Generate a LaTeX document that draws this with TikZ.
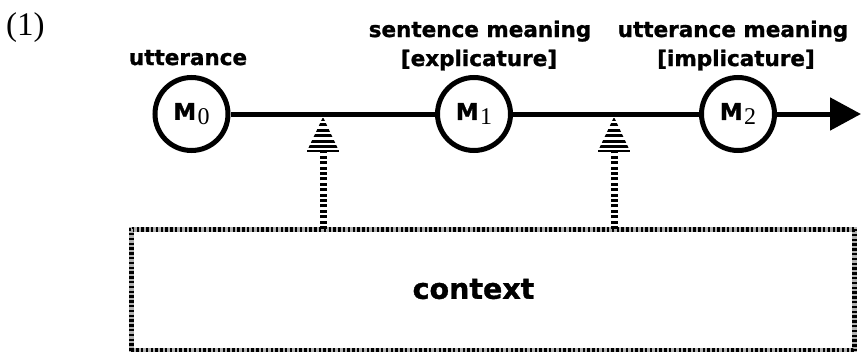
\documentclass[tikz,border=0pt]{standalone}
\usepackage{fontspec}
\setmainfont{Liberation Serif}
\newfontfamily\labfont{DejaVu Sans}[BoldFeatures={FakeBold=1.2}]
\usetikzlibrary{arrows.meta}
\newcommand\mlab[1]{{\labfont\bfseries\fontsize{23}{26}\selectfont M}\hspace{1.5pt}\raisebox{-5pt}{\fontsize{24}{26}\selectfont #1}}
\tikzset{
  mcirc/.style={circle,draw,line width=5pt,minimum size=73pt,inner sep=0pt},
  toplab/.style={anchor=base,inner sep=0pt,font=\labfont\bfseries\fontsize{21.5}{26}\selectfont},
  mainline/.style={line width=5pt},
  shaft/.style={line width=7pt,dash pattern=on 3pt off 2.4pt},
  chkA/.style={line width=2.4pt,dash pattern=on 2.4pt off 2.4pt},
  chkB/.style={line width=2.4pt,dash pattern=on 2.4pt off 2.4pt,dash phase=2.4pt},
  chkG/.style={line width=4.8pt,gray!60},
}
\begin{document}
\begin{tikzpicture}[x=1pt,y=-1pt]
\useasboundingbox (0,0) rectangle (861,351);
% example number
\node[anchor=base west,inner sep=0pt,font=\fontsize{33}{36}\selectfont] (num) at (6,35) {(1)};
% circles
\node[mcirc] (m0) at (191.5,114) {\mlab{0}};
\node[mcirc] (m1) at (474,114) {\mlab{1}};
\node[mcirc] (m2) at (738,114) {\mlab{2}};
\coordinate (end) at (861,114);
% labels
\node[toplab] (l0) at (188,65) {utterance};
\node[toplab] (l1a) at (480,37) {sentence meaning};
\node[toplab] (l1b) at (479,66) {[explicature]};
\node[toplab] (l2a) at (733,37) {utterance meaning};
\node[toplab] (l2b) at (736,66) {[implicature]};
% main line
\draw[mainline] (m0) -- (m1);
\draw[mainline] (m1) -- (m2);
\draw[mainline,-{Triangle[length=31pt,width=32pt]}] (m2) -- (end);
% context box
\coordinate (bnw) at (129,227);
\coordinate (bse) at (857,353);
\draw[chkG] ([shift={(2.4pt,-2.4pt)}]bnw) rectangle ([shift={(-2.4pt,2.4pt)}]bse);
\draw[chkA] ([shift={(1.2pt,-1.2pt)}]bnw) rectangle ([shift={(-1.2pt,1.2pt)}]bse);
\draw[chkB] ([shift={(3.6pt,-3.6pt)}]bnw) rectangle ([shift={(-3.6pt,3.6pt)}]bse);
\node[inner sep=0pt,font=\labfont\bfseries\fontsize{28.5}{32}\selectfont] (ctx) at (473.5,289) {context};
% upward striped arrows
\foreach \n/\x in {a/323,b/614}{
  \coordinate (\n top) at (\x,117);
  \coordinate (\n base) at (\x,151);
  \coordinate (\n foot) at (\x,229);
  \draw[shaft] (\n foot) -- (\n base);
  \begin{scope}
    \clip (\n top) -- ([xshift=-16pt]\n base) -- ([xshift=16pt]\n base) -- cycle;
    \foreach \y in {117.5,123,128.5,134,139.5,145}{
      \fill (\x-17,\y) rectangle (\x+17,\y+3.2);
    }
  \end{scope}
  \fill ([xshift=-16pt,yshift=-1.4pt]\n base) rectangle ([xshift=16pt,yshift=0.6pt]\n base);
}
\end{tikzpicture}
\end{document}
